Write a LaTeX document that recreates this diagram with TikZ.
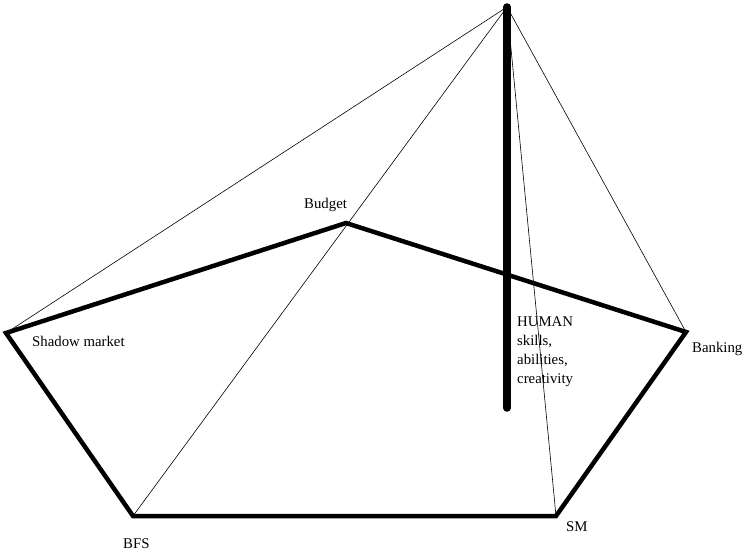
\documentclass[tikz,border=0pt]{standalone}
\usepackage{fontspec}
\setmainfont{Liberation Serif}
\begin{document}
\begin{tikzpicture}[x=1pt,y=-1pt,
    edge/.style={line width=4.5pt},
    rib/.style={line width=0.6pt},
    pole/.style={line width=7.5pt,line cap=round},
    lbl/.style={anchor=base west,inner sep=0pt,font=\fontsize{14.8}{19}\selectfont}]

\useasboundingbox (0,0) rectangle (744,551);

% corners of the base and the top
\coordinate (apex)    at (507,7);
\coordinate (foot)    at (507,408);
\coordinate (shadow)  at (6,333);
\coordinate (budget)  at (346,223);
\coordinate (banking) at (686,332);
\coordinate (sm)      at (556,516);
\coordinate (bfs)     at (133,516);

\foreach \v in {shadow,bfs,sm,banking} {%
   \draw[rib] (apex) -- (\v);
};

\draw[edge] (shadow) -- (budget) -- (banking) -- (sm) -- (bfs) -- cycle;

\draw[pole] (apex) -- (foot);

% labels
\node[lbl] (shadowtxt)  at (32,346)  {Shadow market};
\node[lbl] (budgettxt)  at (304,208) {Budget};
\node[lbl] (bankingtxt) at (692,352) {Banking};
\node[lbl] (smtxt)      at (566,531) {SM};
\node[lbl] (bfstxt)     at (123,548) {BFS};
\node[lbl,anchor=north west,align=left] (humantxt) at (517,317)
   {HUMAN\\skills,\\abilities,\\creativity};
\end{tikzpicture}
\end{document}
